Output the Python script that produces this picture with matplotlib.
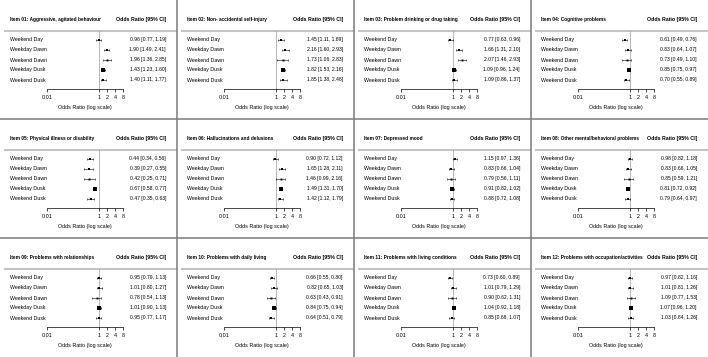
import matplotlib
matplotlib.use("Agg")
import matplotlib.pyplot as plt
import numpy as np

plt.rcParams['font.family'] = ['Liberation Sans', 'DejaVu Sans']

rows = ["Weekend Day", "Weekday Dawn", "Weekend Dawn", "Weekday Dusk", "Weekend Dusk"]

titles = [
    "Item 01: Aggressive, agitated behaviour",
    "Item 02: Non- accidental self-injury",
    "Item 03: Problem drinking or drug taking",
    "Item 04: Cognitive problems",
    "Item 05: Physical illness or disability",
    "Item 06: Hallucinations and delusions",
    "Item 07: Depressed mood",
    "Item 08: Other mental/behavioral problems",
    "Item 09: Problems with relationships",
    "Item 10: Problems with daily living",
    "Item 11: Problems with living conditions",
    "Item 12: Problems with occupation/activities",
]

# odds ratio, lower, upper for each item (rows in order above)
or_01 = [0.96, 1.90, 1.96, 1.43, 1.40]
lo_01 = [0.77, 1.49, 1.36, 1.23, 1.11]
hi_01 = [1.19, 2.41, 2.85, 1.60, 1.77]

or_02 = [1.45, 2.16, 1.73, 1.82, 1.85]
lo_02 = [1.11, 1.60, 1.06, 1.53, 1.38]
hi_02 = [1.89, 2.93, 2.83, 2.16, 2.48]

or_03 = [0.77, 1.66, 2.07, 1.09, 1.09]
lo_03 = [0.63, 1.31, 1.46, 0.96, 0.86]
hi_03 = [0.96, 2.10, 2.93, 1.24, 1.37]

or_04 = [0.61, 0.83, 0.73, 0.85, 0.70]
lo_04 = [0.49, 0.64, 0.49, 0.75, 0.55]
hi_04 = [0.76, 1.07, 1.10, 0.97, 0.89]

or_05 = [0.44, 0.39, 0.42, 0.67, 0.47]
lo_05 = [0.34, 0.27, 0.25, 0.58, 0.35]
hi_05 = [0.56, 0.55, 0.71, 0.77, 0.63]

or_06 = [0.90, 1.65, 1.46, 1.49, 1.42]
lo_06 = [0.72, 1.28, 0.99, 1.31, 1.12]
hi_06 = [1.12, 2.11, 2.16, 1.70, 1.79]

or_07 = [1.15, 0.83, 0.79, 0.91, 0.88]
lo_07 = [0.97, 0.66, 0.56, 0.82, 0.72]
hi_07 = [1.36, 1.04, 1.11, 1.02, 1.08]

or_08 = [0.98, 0.83, 0.85, 0.81, 0.79]
lo_08 = [0.82, 0.66, 0.59, 0.72, 0.64]
hi_08 = [1.18, 1.05, 1.21, 0.92, 0.97]

or_09 = [0.95, 1.01, 0.78, 1.01, 0.95]
lo_09 = [0.79, 0.80, 0.54, 0.90, 0.77]
hi_09 = [1.13, 1.27, 1.13, 1.13, 1.17]

or_10 = [0.66, 0.82, 0.63, 0.84, 0.64]
lo_10 = [0.55, 0.65, 0.43, 0.75, 0.51]
hi_10 = [0.80, 1.03, 0.91, 0.94, 0.79]

or_11 = [0.73, 1.01, 0.90, 1.04, 0.85]
lo_11 = [0.60, 0.79, 0.62, 0.92, 0.68]
hi_11 = [0.89, 1.29, 1.31, 1.18, 1.07]

or_12 = [0.97, 1.01, 1.09, 1.07, 1.03]
lo_12 = [0.82, 0.81, 0.77, 0.96, 0.84]
hi_12 = [1.16, 1.26, 1.53, 1.20, 1.26]

items = [
    (or_01, lo_01, hi_01), (or_02, lo_02, hi_02), (or_03, lo_03, hi_03),
    (or_04, lo_04, hi_04), (or_05, lo_05, hi_05), (or_06, lo_06, hi_06),
    (or_07, lo_07, hi_07), (or_08, lo_08, hi_08), (or_09, lo_09, hi_09),
    (or_10, lo_10, hi_10), (or_11, lo_11, hi_11), (or_12, lo_12, hi_12),
]

xticks = [0.01, 1, 2, 4, 8]
xticklabels = ["0.01", "1", "2", "4", "8"]

W, H = 708, 357
PW, PH = 177, 119

fig = plt.figure(figsize=(W / 100, H / 100), dpi=100)


def fx(x):
    return x / W


def fy(y):
    return 1 - y / H


for k, (est, lo, hi) in enumerate(items):
    r, c = divmod(k, 4)
    x0, y0 = c * PW, r * PH

    # panel axes in pixel units for text / header line
    pa = fig.add_axes([fx(x0), fy(y0 + PH), PW / W, PH / H])
    pa.set_xlim(0, PW)
    pa.set_ylim(PH, 0)
    pa.axis("off")
    pa.text(10, 20, titles[k], fontsize=3.4, fontweight="bold", va="center", ha="left")
    pa.text(166, 20, "Odds Ratio [95% CI]", fontsize=3.8, fontweight="bold",
            va="center", ha="right")
    pa.plot([4, PW], [31, 31], color="#c4c4c4", lw=1.5, solid_capstyle="butt")
    for i, name in enumerate(rows):
        yy = 40 + 10 * i
        pa.text(10, yy, name, fontsize=3.8, va="center", ha="left")
        pa.text(166, yy, f"{est[i]:.2f} [{lo[i]:.2f}, {hi[i]:.2f}]",
                fontsize=3.6, va="center", ha="right")

    # forest axes
    ax = fig.add_axes([fx(x0 + 47), fy(y0 + 89), 76 / W, 58 / H])
    ax.set_xscale("log")
    ax.set_xlim(0.01, 8)
    ax.set_ylim(5.9, 0.1)
    ax.patch.set_alpha(0)
    for s in ["top", "left", "right"]:
        ax.spines[s].set_visible(False)
    ax.spines["bottom"].set_linewidth(0.5)
    ax.spines["bottom"].set_bounds(0.01, 8)
    ax.set_yticks([])
    ax.set_xticks(xticks)
    ax.set_xticklabels(xticklabels)
    ax.minorticks_off()
    ax.tick_params(axis="x", length=2, width=0.5, pad=2, labelsize=3.9)
    ax.set_xlabel("Odds Ratio (log scale)", fontsize=3.9, labelpad=4)
    ax.axvline(1, color="#9a9a9a", lw=0.5, zorder=1)

    est = np.array(est)
    lo = np.array(lo)
    hi = np.array(hi)
    w = 1 / (np.log(hi) - np.log(lo)) ** 2
    ms = 1.4 + 1.9 * (w - w.min()) / (w.max() - w.min())
    ypos = np.arange(1, 6)
    ax.hlines(ypos, lo, hi, color="black", lw=0.4, zorder=2)
    ax.vlines(lo, ypos - 0.12, ypos + 0.12, color="black", lw=0.4, zorder=2)
    ax.vlines(hi, ypos - 0.12, ypos + 0.12, color="black", lw=0.4, zorder=2)
    for i in range(5):
        ax.plot(est[i], ypos[i], marker="s", ms=ms[i], color="black", mew=0, zorder=3)

# panel separators
frame = fig.add_axes([0, 0, 1, 1])
frame.set_xlim(0, W)
frame.set_ylim(H, 0)
frame.axis("off")
frame.patch.set_alpha(0)
for c in range(1, 4):
    frame.plot([c * PW, c * PW], [0, H], color="#7a7a7a", lw=1.1)
for r in range(1, 3):
    frame.plot([0, W], [r * PH, r * PH], color="#7a7a7a", lw=1.1)

fig.savefig("out.png", dpi=100)
